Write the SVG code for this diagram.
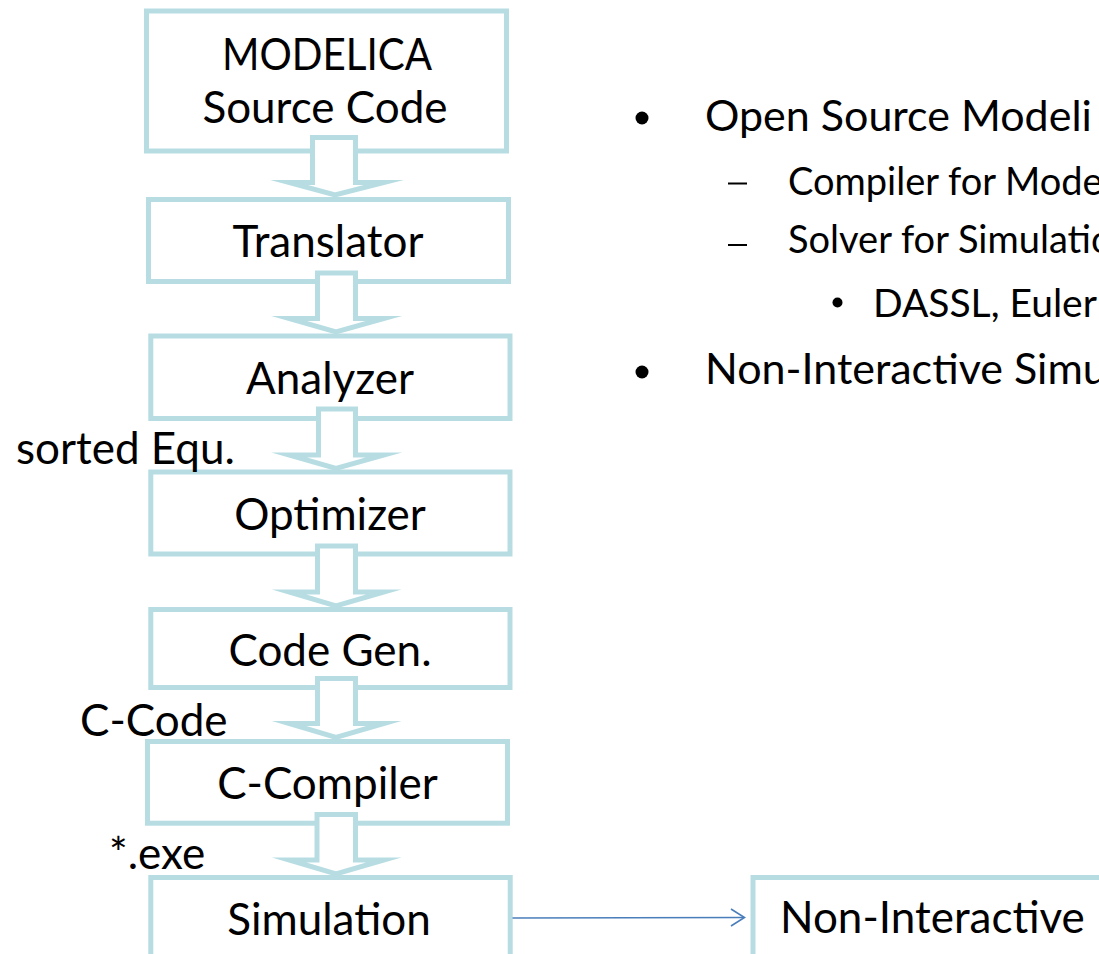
<svg xmlns="http://www.w3.org/2000/svg" width="1099" height="954" viewBox="0 0 1099 954">
  <style>
    .box { fill: #ffffff; stroke: #b7dde3; stroke-width: 5; }
    .flow { fill: #ffffff; stroke: #b7dde3; stroke-width: 5; stroke-linejoin: miter; stroke-miterlimit: 10; }
    .lbl { font-family: Lato, "Liberation Sans", sans-serif; font-size: 44px; fill: #000000; }
    .mid { text-anchor: middle; }
    .l1 { font-family: Lato, "Liberation Sans", sans-serif; font-size: 43px; fill: #000000; }
    .l2 { font-family: Lato, "Liberation Sans", sans-serif; font-size: 38px; fill: #000000; }
    .l3 { font-family: Lato, "Liberation Sans", sans-serif; font-size: 39px; fill: #000000; }
    .link { fill: none; stroke: #4a7ebb; stroke-width: 1.6; }
  </style>

  <!-- pipeline stages -->
  <g id="node-source">
    <rect class="box" x="146.5" y="11" width="360" height="140"/>
    <text class="lbl mid" x="327" y="70" textLength="210" lengthAdjust="spacingAndGlyphs">MODELICA</text>
    <text class="lbl mid" x="325" y="123">Source Code</text>
  </g>
  <g id="node-translator">
    <rect class="box" x="148.5" y="199.5" width="360" height="82"/>
    <text class="lbl mid" x="328" y="257">Translator</text>
  </g>
  <g id="node-analyzer">
    <rect class="box" x="150.8" y="336" width="359.2" height="82.5"/>
    <text class="lbl mid" x="330" y="393.5">Analyzer</text>
  </g>
  <g id="node-optimizer">
    <rect class="box" x="150.8" y="472" width="359.2" height="82"/>
    <text class="lbl mid" x="330" y="529.5">Optimizer</text>
  </g>
  <g id="node-codegen">
    <rect class="box" x="150.8" y="609.5" width="359.2" height="78"/>
    <text class="lbl mid" x="330" y="666">Code Gen.</text>
  </g>
  <g id="node-ccompiler">
    <rect class="box" x="147.5" y="741.5" width="360" height="81.7"/>
    <text class="lbl mid" x="327.5" y="798.5">C-Compiler</text>
  </g>
  <g id="node-simulation">
    <rect class="box" x="150.8" y="877.5" width="359.4" height="110"/>
    <text class="lbl mid" x="329" y="935">Simulation</text>
  </g>
  <g id="node-noninteractive">
    <rect class="box" x="753" y="877.5" width="420" height="110"/>
    <text class="lbl" x="780" y="933">Non-Interactive</text>
  </g>

  <!-- block arrows between stages and the link to the result box -->
  <g id="connectors">
    <polygon class="flow" points="312.5,137.5 355.5,137.5 355.5,182.5 384,182.5 335,195 289,182.5 312.5,182.5"/>
    <polygon class="flow" points="317.5,273 355.5,273 355.5,318.5 384,318.5 336,332 289,318.5 317.5,318.5"/>
    <polygon class="flow" points="318.5,409 355.5,409 355.5,455 384,455 336,468.5 289,455 318.5,455"/>
    <polygon class="flow" points="317.5,546 355.5,546 355.5,592 384,592 336,606 289,592 317.5,592"/>
    <polygon class="flow" points="317.5,678.5 355.5,678.5 355.5,723.5 384,723.5 336,737.5 289,723.5 317.5,723.5"/>
    <polygon class="flow" points="317,814.5 355.5,814.5 355.5,860 384,860 336,874 289,860 317,860"/>
    <line class="link" x1="512.5" y1="918" x2="744" y2="917.5"/>
    <polyline class="link" points="731,909 744.5,917.5 731,926"/>
  </g>

  <!-- intermediate artefacts -->
  <text class="lbl" x="16" y="463.5">sorted Equ.</text>
  <text class="lbl" x="80" y="736">C-Code</text>
  <text class="lbl" x="109" y="869">*.exe</text>

  <!-- feature list -->
  <circle cx="642" cy="118" r="6.5" fill="#000000"/>
  <text class="l1" x="705" y="131">Open Source Modeli</text>
  <line x1="728" y1="183.5" x2="747" y2="183.5" stroke="#000000" stroke-width="2"/>
  <text class="l2" x="788" y="195">Compiler for Mode</text>
  <line x1="728" y1="245" x2="747" y2="245" stroke="#000000" stroke-width="2"/>
  <text class="l2" x="788" y="253">Solver for Simulatio</text>
  <circle cx="837.5" cy="302.5" r="5" fill="#000000"/>
  <text class="l3" x="873" y="317">DASSL, Euler</text>
  <circle cx="642" cy="372" r="6.5" fill="#000000"/>
  <text class="l1" x="705" y="383.5">Non-Interactive Simu</text>
</svg>
